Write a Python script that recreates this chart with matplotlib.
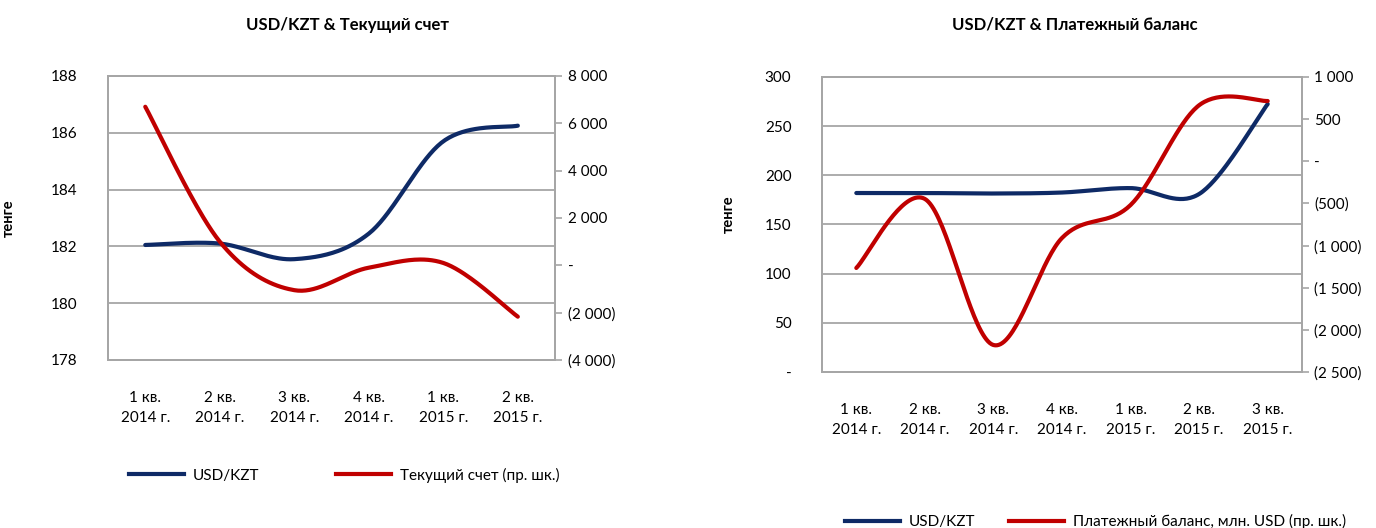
import numpy as np
import matplotlib
matplotlib.use("Agg")
import matplotlib.pyplot as plt
from matplotlib.lines import Line2D
from matplotlib.ticker import FuncFormatter, FixedLocator

plt.rcParams['font.family'] = ['Lato', 'DejaVu Sans']

# Данные: левый график
cats_left = ["1 кв.\n2014 г.", "2 кв.\n2014 г.", "3 кв.\n2014 г.", "4 кв.\n2014 г.",
             "1 кв.\n2015 г.", "2 кв.\n2015 г."]
usd_left = [182.05, 182.1, 181.55, 182.45, 185.7, 186.25]
current_account = [6700, 1000, -1050, -100, 100, -2170]

# Данные: правый график
cats_right = ["1 кв.\n2014 г.", "2 кв.\n2014 г.", "3 кв.\n2014 г.", "4 кв.\n2014 г.",
              "1 кв.\n2015 г.", "2 кв.\n2015 г.", "3 кв.\n2015 г."]
usd_right = [182, 182, 181.5, 182.5, 187, 181, 272.5]
balance = [-1266, -447, -2180, -910, -519, 665, 715]

BLUE = "#0E2A66"
RED = "#C00000"
GRID = "#A6A6A6"
FS = 11


def smooth(y, n=40):
    # сглаживание как в Excel (кривые Безье через точки)
    x = np.arange(len(y), dtype=float)
    y = np.asarray(y, dtype=float)
    pts = np.column_stack([x, y])
    out = []
    for i in range(len(pts) - 1):
        p0 = pts[i - 1] if i > 0 else pts[i]
        p1, p2 = pts[i], pts[i + 1]
        p3 = pts[i + 2] if i + 2 < len(pts) else pts[i + 1]
        c1 = p1 + (p2 - p0) / 6
        c2 = p2 - (p3 - p1) / 6
        t = np.linspace(0, 1, n)[:, None]
        seg = ((1 - t) ** 3 * p1 + 3 * (1 - t) ** 2 * t * c1
               + 3 * (1 - t) * t ** 2 * c2 + t ** 3 * p2)
        out.append(seg if i == 0 else seg[1:])
    out = np.vstack(out)
    return out[:, 0], out[:, 1]


def fmt_right(v, pos):
    if abs(v) < 1e-9:
        return "-"
    s = "{:,.0f}".format(abs(v)).replace(",", " ")
    return "(" + s + ")" if v < 0 else s


def fmt_left(v, pos):
    if abs(v) < 1e-9:
        return "-"
    return "{:.0f}".format(v)


def style(ax, ax2, cats, yl, yticks, y2l, y2ticks, lab_xy):
    n = len(cats)
    ax.set_xlim(-0.5, n - 0.5)
    ax.set_xticks(range(n))
    ax.set_xticklabels(cats, fontsize=FS, linespacing=1.55)
    ax.tick_params(axis='x', length=0, pad=22)
    ax.set_ylim(*yl)
    ax.yaxis.set_major_locator(FixedLocator(yticks))
    ax.yaxis.set_major_formatter(FuncFormatter(fmt_left))
    ax.tick_params(axis='y', length=0, pad=22, labelsize=FS)
    ax.grid(axis='y', color=GRID, lw=1.3)
    ax.set_axisbelow(True)
    ax2.set_ylim(*y2l)
    ax2.yaxis.set_major_locator(FixedLocator(y2ticks))
    ax2.yaxis.set_major_formatter(FuncFormatter(fmt_right))
    ax2.tick_params(axis='y', length=5, width=1.2, color=GRID, pad=4, labelsize=FS)
    for a in (ax, ax2):
        for sp in a.spines.values():
            sp.set_color(GRID)
            sp.set_linewidth(1.3)
    ax.set_ylabel("тенге", fontsize=10.5, fontweight='bold')
    ax.yaxis.set_label_coords(*lab_xy)


fig = plt.figure(figsize=(13.76, 5.28), dpi=100)

# Левый график
ax1 = fig.add_axes([0.0785, 0.3182, 0.3249, 0.5379])
ax1b = ax1.twinx()
style(ax1, ax1b, cats_left, (178, 188), [178, 180, 182, 184, 186, 188],
      (-4000, 8000), list(range(-4000, 8001, 2000)), (-0.205, 0.5))
ax1.plot(*smooth(usd_left), color=BLUE, lw=3, solid_capstyle='round', zorder=3)
ax1b.plot(*smooth(current_account), color=RED, lw=3, solid_capstyle='round')
fig.text(348 / 1376, 1 - 25 / 528, "USD/KZT & Текущий счет", fontsize=12,
         fontweight='bold', ha='center', va='center')

fig.legend(handles=[Line2D([], [], color=BLUE, lw=3), Line2D([], [], color=RED, lw=3)],
           labels=["USD/KZT", "Текущий счет (пр. шк.)"], loc='center',
           bbox_to_anchor=(0.25, 0.1), ncol=2, frameon=False, fontsize=FS,
           handlelength=3.6, columnspacing=5.0, handletextpad=0.6)

# Правый график
ax2 = fig.add_axes([0.5974, 0.2955, 0.3488, 0.5587])
ax2b = ax2.twinx()
style(ax2, ax2b, cats_right, (0, 300), [0, 50, 100, 150, 200, 250, 300],
      (-2500, 1000), list(range(-2500, 1001, 500)), (-0.18, 0.535))
ax2.plot(*smooth(usd_right), color=BLUE, lw=3, solid_capstyle='round', zorder=3)
ax2b.plot(*smooth(balance), color=RED, lw=3, solid_capstyle='round')
fig.text(1075 / 1376, 1 - 25 / 528, "USD/KZT & Платежный баланс", fontsize=12,
         fontweight='bold', ha='center', va='center')

fig.legend(handles=[Line2D([], [], color=BLUE, lw=3), Line2D([], [], color=RED, lw=3)],
           labels=["USD/KZT", "Платежный баланс, млн. USD (пр. шк.)"], loc='center',
           bbox_to_anchor=(0.796, 0.012), ncol=2, frameon=False, fontsize=FS,
           handlelength=3.6, columnspacing=2.2, handletextpad=0.6)

fig.savefig("out.png", dpi=100)
